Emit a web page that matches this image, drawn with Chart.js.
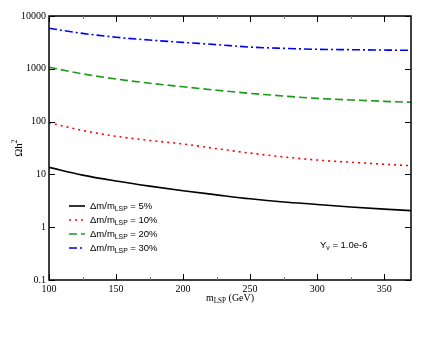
<!DOCTYPE html>
<html>
<head>
<meta charset="utf-8">
<script src="https://cdn.jsdelivr.net/npm/chart.js@4.4.1/dist/chart.umd.min.js"></script>
<style>
  body { margin: 0; background: #fff; }
  canvas { display: block; }
</style>
</head>
<body>
<canvas id="relic" width="440" height="340"></canvas>
<script>
// values
const massLSP = [100, 125, 150, 175, 200, 225, 250, 275, 300, 325, 350, 370];
const omega5 = [13.6, 9.7, 7.5, 6.0, 4.9, 4.1, 3.45, 3.0, 2.7, 2.42, 2.2, 2.06];
const omega10 = [95.5, 68, 52.7, 44, 37.7, 30.7, 25.3, 21.4, 18.7, 17.0, 15.6, 14.6];
const omega20 = [1070, 804, 640, 534, 457, 393, 343, 305, 275, 257, 242, 232];
const omega30 = [5850, 4680, 3960, 3500, 3160, 2870, 2580, 2440, 2340, 2300, 2265, 2240];
const splitLabels = ['5%', '10%', '20%', '30%'];
const xMajor = [100, 150, 200, 250, 300, 350];
const xMinor = [125, 175, 225, 275, 325];
const yDecades = [0.1, 1, 10, 100, 1000, 10000];

const serif = 'Liberation Serif';
const sans = 'Liberation Sans';

function makeSet(data, color, dash, label) {
    return {
        label: label,
        data: massLSP.map((m, i) => ({ x: m, y: data[i] })),
        borderColor: color,
        borderWidth: 1.6,
        borderDash: dash,
        pointRadius: 0,
        cubicInterpolationMode: 'monotone',
        fill: false,
    };
}

// draw text pieces with subscripts, left to right
function drawPieces(ctx, pieces, x, y, size, family) {
    let cx = x;
    for (const p of pieces) {
        const fs = p.sub ? size * 0.72 : size;
        ctx.font = fs + 'px "' + family + '"';
        ctx.fillText(p.t, cx, y + (p.sub ? size * 0.3 : 0));
        cx += ctx.measureText(p.t).width;
    }
    return cx - x;
}

function piecesWidth(ctx, pieces, size, family) {
    let w = 0;
    for (const p of pieces) {
        ctx.font = (p.sub ? size * 0.72 : size) + 'px "' + family + '"';
        w += ctx.measureText(p.t).width;
    }
    return w;
}

const framePlugin = {
    id: 'frame',
    afterDraw(chart) {
        const ctx = chart.ctx;
        const area = chart.chartArea;
        const xs = chart.scales.x;
        const ys = chart.scales.y;
        ctx.save();
        ctx.strokeStyle = '#000';
        ctx.lineWidth = 1.5;
        ctx.setLineDash([]);
        ctx.strokeRect(area.left, area.top, area.right - area.left, area.bottom - area.top);

        // inward ticks
        ctx.lineWidth = 1;
        ctx.beginPath();
        for (const v of xMajor) {
            const px = Math.round(xs.getPixelForValue(v)) + 0.5;
            ctx.moveTo(px, area.bottom); ctx.lineTo(px, area.bottom - 6);
            ctx.moveTo(px, area.top); ctx.lineTo(px, area.top + 6);
        }
        for (const v of yDecades) {
            const py = Math.round(ys.getPixelForValue(v)) + 0.5;
            ctx.moveTo(area.left, py); ctx.lineTo(area.left + 6, py);
            ctx.moveTo(area.right, py); ctx.lineTo(area.right - 6, py);
        }
        ctx.stroke();
        ctx.strokeStyle = '#777';
        ctx.beginPath();
        for (const v of xMinor) {
            const px = Math.round(xs.getPixelForValue(v)) + 0.5;
            ctx.moveTo(px, area.bottom); ctx.lineTo(px, area.bottom - 3);
            ctx.moveTo(px, area.top); ctx.lineTo(px, area.top + 3);
        }
        ctx.stroke();

        ctx.fillStyle = '#000';
        ctx.textBaseline = 'middle';

        // x title  m_LSP (GeV)
        const xTitle = [{ t: 'm' }, { t: 'LSP', sub: true }, { t: ' (GeV)' }];
        const xw = piecesWidth(ctx, xTitle, 10, serif);
        drawPieces(ctx, xTitle, (area.left + area.right) / 2 - xw / 2, 298, 10, serif);

        // y title  Ωh²
        ctx.save();
        ctx.translate(19, (area.top + area.bottom) / 2);
        ctx.rotate(-Math.PI / 2);
        ctx.font = '11px "' + serif + '"';
        const w1 = ctx.measureText('Ωh').width;
        ctx.fillText('Ωh', -w1 / 2 - 2, 0);
        ctx.font = '7.5px "' + serif + '"';
        ctx.fillText('2', w1 / 2 - 2, -4);
        ctx.restore();

        // legend
        const rowY = [206, 220, 234, 248];
        chart.data.datasets.forEach((ds, i) => {
            ctx.strokeStyle = ds.borderColor;
            ctx.lineWidth = ds.borderWidth;
            ctx.setLineDash(ds.borderDash || []);
            ctx.beginPath();
            ctx.moveTo(69, rowY[i]);
            ctx.lineTo(85, rowY[i]);
            ctx.stroke();
            ctx.setLineDash([]);
            ctx.fillStyle = '#000';
            drawPieces(ctx, [{ t: 'Δm/m' }, { t: 'LSP', sub: true }, { t: ' = ' + splitLabels[i] }], 90, rowY[i], 9.5, sans);
        });

        // annotation Y_ν = 1.0e-6
        drawPieces(ctx, [{ t: 'Y' }, { t: 'ν', sub: true }, { t: ' = 1.0e-6' }], 320, 245, 9.5, sans);
        ctx.restore();
    }
};

new Chart(document.getElementById('relic'), {
    type: 'line',
    data: {
        datasets: [
            makeSet(omega5, '#000000', [], '5%'),
            makeSet(omega10, '#ff0000', [2, 4], '10%'),
            makeSet(omega20, '#1a9a1a', [8, 4], '20%'),
            makeSet(omega30, '#0000ff', [8, 3, 2, 3], '30%'),
        ]
    },
    options: {
        responsive: false,
        animation: false,
        devicePixelRatio: 1,
        layout: { padding: { top: 16, right: 29, left: 0, bottom: 0 } },
        plugins: { legend: { display: false }, tooltip: { enabled: false } },
        scales: {
            x: {
                type: 'linear',
                min: 100,
                max: 370,
                afterBuildTicks: axis => { axis.ticks = xMajor.map(v => ({ value: v })); },
                afterFit: axis => { axis.height = 60; },
                grid: { display: false, drawTicks: false },
                border: { display: false },
                ticks: {
                    padding: 3,
                    color: '#000',
                    maxRotation: 0,
                    font: { family: serif, size: 10 },
                    callback: v => String(v),
                },
            },
            y: {
                type: 'logarithmic',
                min: 0.1,
                max: 10000,
                afterBuildTicks: axis => { axis.ticks = yDecades.map(v => ({ value: v })); },
                afterFit: axis => { axis.width = 49; },
                grid: { display: false, drawTicks: false },
                border: { display: false },
                ticks: {
                    padding: 3,
                    color: '#000',
                    font: { family: serif, size: 10 },
                    callback: v => String(v),
                },
            }
        }
    },
    plugins: [framePlugin]
});
</script>
</body>
</html>
